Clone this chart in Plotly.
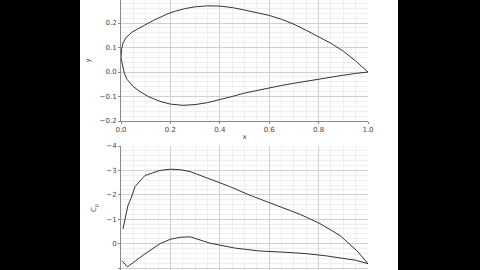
import plotly.graph_objects as go
from plotly.subplots import make_subplots

# Airfoil geometry
upper_x = [0.0, 0.003, 0.008, 0.02, 0.045, 0.07, 0.097, 0.13, 0.158, 0.19, 0.219, 0.26, 0.30, 0.35, 0.40,
           0.45, 0.50, 0.55, 0.60, 0.65, 0.70, 0.75, 0.80, 0.85, 0.90, 0.95, 1.0]
upper_y = [0.06, 0.095, 0.118, 0.14, 0.163, 0.178, 0.192, 0.21, 0.224, 0.238, 0.248, 0.259, 0.266, 0.27, 0.269,
           0.263, 0.253, 0.243, 0.231, 0.215, 0.195, 0.17, 0.145, 0.117, 0.085, 0.045, 0.0]
lower_x = [0.0, 0.005, 0.012, 0.024, 0.05, 0.077, 0.11, 0.158, 0.2, 0.25, 0.30, 0.35, 0.40, 0.45, 0.50,
           0.55, 0.60, 0.65, 0.70, 0.75, 0.80, 0.85, 0.90, 0.95, 1.0]
lower_y = [0.06, 0.03, 0.0, -0.03, -0.06, -0.08, -0.1, -0.12, -0.131, -0.136, -0.133, -0.125, -0.114, -0.1, -0.086,
           -0.075, -0.065, -0.055, -0.046, -0.037, -0.028, -0.02, -0.013, -0.006, 0.0]

# Pressure coefficient
cp_up_x = [0.008, 0.028, 0.04, 0.057, 0.097, 0.158, 0.2, 0.24, 0.28, 0.36, 0.44, 0.52, 0.60, 0.68, 0.725, 0.806, 0.887, 0.955, 1.0]
cp_up = [-0.6, -1.56, -1.84, -2.34, -2.79, -3.0, -3.05, -3.03, -2.95, -2.66, -2.34, -1.99, -1.68, -1.38, -1.2, -0.82, -0.33, 0.29, 0.82]
cp_lo_x = [0.004, 0.026, 0.097, 0.158, 0.2, 0.24, 0.28, 0.36, 0.46, 0.56, 0.66, 0.75, 0.83, 0.90, 0.95, 1.0]
cp_lo = [0.7, 0.95, 0.42, 0.0, -0.18, -0.26, -0.28, -0.02, 0.18, 0.3, 0.35, 0.41, 0.5, 0.6, 0.68, 0.82]

W, H = 480, 270
L, R = 121, 368
fig = make_subplots(rows=2, cols=1, vertical_spacing=0.0)

line = dict(color="#333333", width=1)
fig.add_trace(go.Scatter(x=upper_x, y=upper_y, mode="lines", line=line, showlegend=False), row=1, col=1)
fig.add_trace(go.Scatter(x=lower_x, y=lower_y, mode="lines", line=line, showlegend=False), row=1, col=1)
fig.add_trace(go.Scatter(x=cp_up_x, y=cp_up, mode="lines", line=line, showlegend=False), row=2, col=1)
fig.add_trace(go.Scatter(x=cp_lo_x, y=cp_lo, mode="lines", line=line, showlegend=False), row=2, col=1)

font = dict(family="DejaVu Sans", size=7, color="#444444")
axcommon = dict(showgrid=True, gridcolor="#d0d0d0", gridwidth=1, zeroline=False,
                showline=True, linecolor="#888888", linewidth=1, ticks="outside", ticklen=2,
                tickcolor="#888888", tickfont=font, automargin=False)

fig.update_layout(
    width=W, height=H, margin=dict(l=L, r=W - R, t=0, b=0),
    paper_bgcolor="white", plot_bgcolor="white", font=font,
    xaxis=dict(domain=[0, 1], range=[0, 1], dtick=0.2, tickformat=".1f",
               minor=dict(dtick=0.05, showgrid=True, gridcolor="#efefef"),
               title=dict(text="x", font=font, standoff=0), **axcommon),
    yaxis=dict(domain=[(H - 121) / H, 1], range=[-0.2, 0.2 + 23 / 245], dtick=0.1, tickformat=".1f",
               minor=dict(dtick=0.02, showgrid=True, gridcolor="#efefef"),
               title=dict(text="y", font=font, standoff=8), **axcommon),
    xaxis2=dict(domain=[0, 1], range=[0, 1], dtick=0.2, tickformat=".1f",
                minor=dict(dtick=0.05, showgrid=True, gridcolor="#efefef"),
                showticklabels=False, **axcommon),
    yaxis2=dict(domain=[0, (H - 146) / H], range=[1.08, -4], dtick=1,
                minor=dict(dtick=0.2, showgrid=True, gridcolor="#efefef"),
                title=dict(text="C<sub>p</sub>", font=font, standoff=8), **axcommon),
)

pw = R - L
def px(v):
    return (v - L) / pw

fig.add_shape(type="rect", xref="paper", yref="paper", x0=px(-5), x1=px(80), y0=-0.1, y1=1.1,
              fillcolor="black", line_width=0, layer="above")
fig.add_shape(type="rect", xref="paper", yref="paper", x0=px(398), x1=px(490), y0=-0.1, y1=1.1,
              fillcolor="black", line_width=0, layer="above")

fig.write_html("out.html")
